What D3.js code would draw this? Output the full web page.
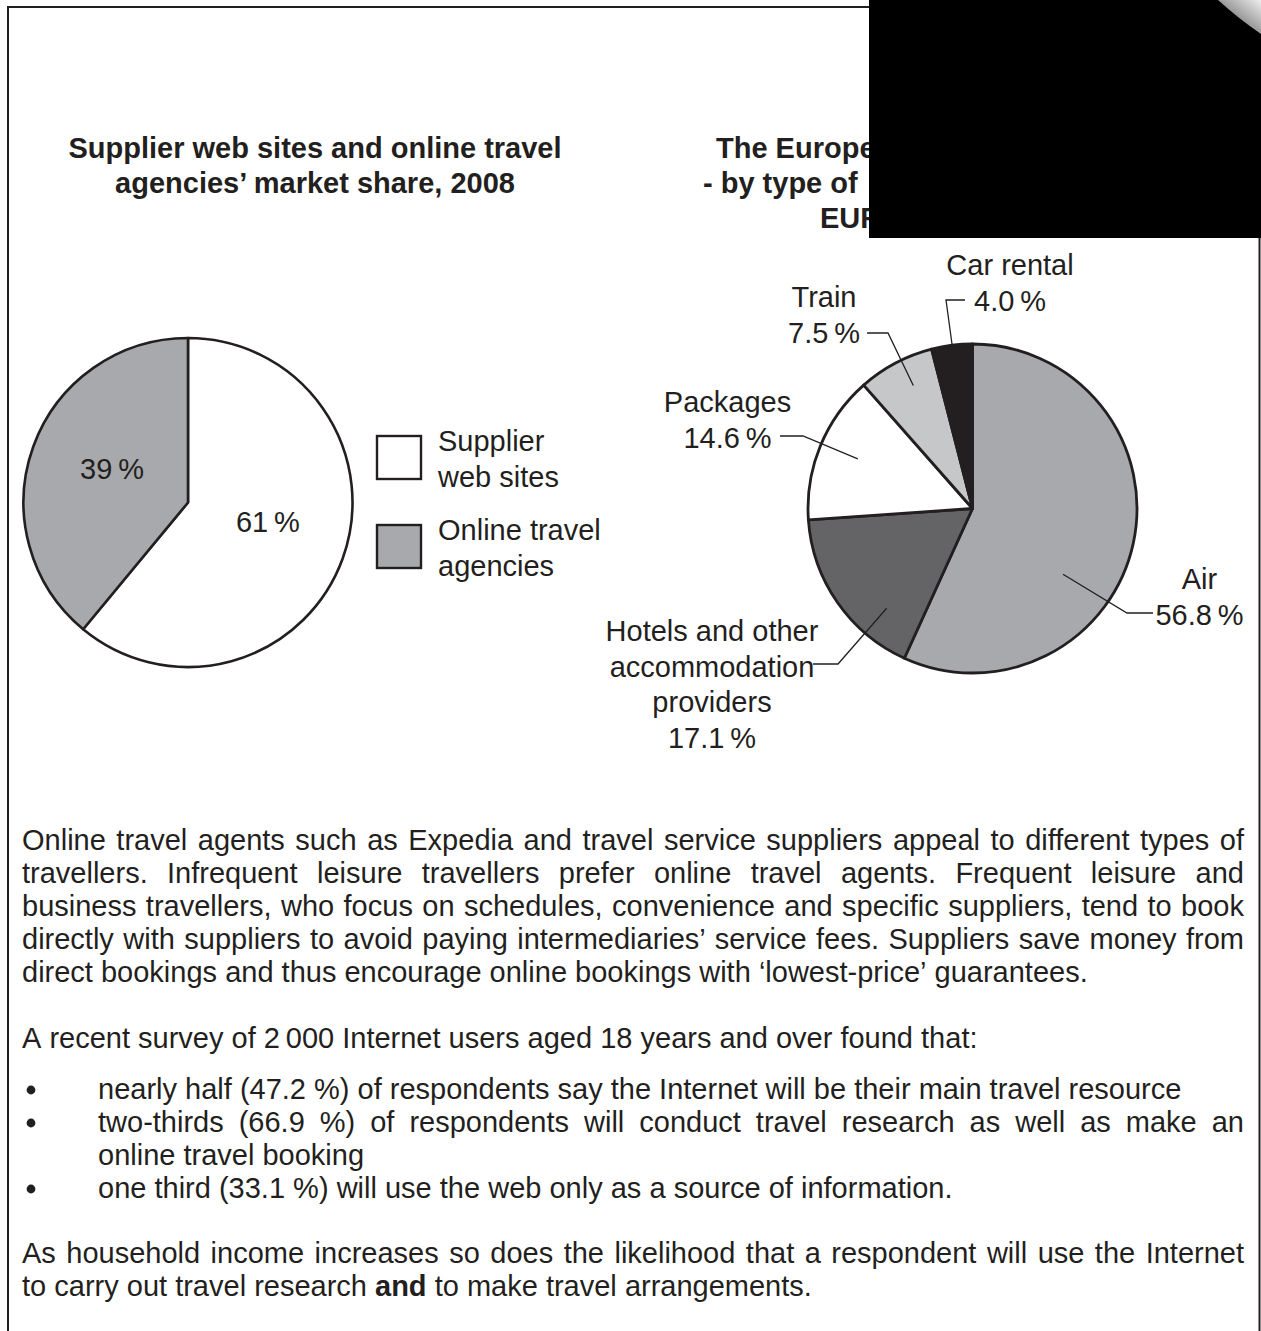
<!DOCTYPE html>
<html>
<head>
<meta charset="utf-8">
<script src="https://cdn.jsdelivr.net/npm/d3@7"></script>
<style>
  html, body { margin: 0; padding: 0; background: #ffffff; }
  svg { display: block; }
  text { font-family: "Liberation Sans", Arial, sans-serif; fill: #231f20; }
</style>
</head>
<body>
<svg id="chart" width="1261" height="1331"></svg>
<script>
// ---------------- DATA ----------------
const leftTitle = ["Supplier web sites and online travel", "agencies\u2019 market share, 2008"];
const leftCategories = ["Supplier web sites", "Online travel agencies"];
const leftValues = [61, 39];
const legendLines = [["Supplier", "web sites"], ["Online travel", "agencies"]];

const rightTitle = ["The Europe", "- by type of", "EUR"];
const rightCategories = ["Air", "Hotels and other accommodation providers", "Packages", "Train", "Car rental"];
const rightValues = [56.8, 17.1, 14.6, 7.5, 4.0];
const rightLabelLines = [["Air"], ["Hotels and other", "accommodation", "providers"], ["Packages"], ["Train"], ["Car rental"]];

const paragraph1 = [
  "Online travel agents such as Expedia and travel service suppliers appeal to different types of",
  "travellers. Infrequent leisure travellers prefer online travel agents. Frequent leisure and",
  "business travellers, who focus on schedules, convenience and specific suppliers, tend to book",
  "directly with suppliers to avoid paying intermediaries\u2019 service fees. Suppliers save money from",
  "direct bookings and thus encourage online bookings with \u2018lowest-price\u2019 guarantees."
];
const paragraph2 = ["A recent survey of 2\u2009000 Internet users aged 18 years and over found that:"];
const bullets = [
  ["nearly half (47.2 %) of respondents say the Internet will be their main travel resource"],
  ["two-thirds (66.9 %) of respondents will conduct travel research as well as make an", "online travel booking"],
  ["one third (33.1 %) will use the web only as a source of information."]
];
const paragraph3 = [
  "As household income increases so does the likelihood that a respondent will use the Internet",
  "to carry out travel research |and| to make travel arrangements."
];

// ---------------- STYLE ----------------
const ink = "#231f20";
const leftColors = ["#ffffff", "#a8a9ac"];
const rightColors = ["#a8a9ac", "#646466", "#ffffff", "#c6c7c9", "#231f20"];
const FS = 29;

const svg = d3.select("#chart");

// frame
svg.append("path")
  .attr("d", "M8,1331 L8,7 L880,7")
  .attr("fill", "none").attr("stroke", ink).attr("stroke-width", 2);
svg.append("line")
  .attr("x1", 1259.5).attr("x2", 1259.5).attr("y1", 230).attr("y2", 1331)
  .attr("stroke", ink).attr("stroke-width", 2);

// ---------------- LEFT PIE ----------------
const pie = d3.pie().sort(null).value(d => d);
const R = 164.5;
const arc = d3.arc().innerRadius(0).outerRadius(R);
const deg = Math.PI / 180;

const gL = svg.append("g").attr("transform", "translate(188,502.5)");
gL.selectAll("path.slice").data(pie(leftValues)).join("path")
  .attr("class", "slice")
  .attr("d", arc)
  .attr("fill", (d, i) => leftColors[i])
  .attr("stroke", ink).attr("stroke-width", 2.6).attr("stroke-linejoin", "round");

// percent labels inside left pie (radial position from slice angle)
const leftLabelRadius = [0.50, 0.505];
const leftLabelAngleShift = [-6 * deg, 4 * deg];
const fmtInt = d3.format("d");
function leftLabelPos(d, i) {
  const a = (d.startAngle + d.endAngle) / 2 + leftLabelAngleShift[i];
  return d3.pointRadial(a, R * leftLabelRadius[i]);
}
gL.selectAll("text.pct").data(pie(leftValues)).join("text")
  .attr("class", "pct")
  .attr("text-anchor", "middle")
  .attr("font-size", FS)
  .attr("x", (d, i) => leftLabelPos(d, i)[0])
  .attr("y", (d, i) => leftLabelPos(d, i)[1] + 10)
  .text(d => fmtInt(d.data) + "\u2009%");

// left title
svg.append("text")
  .attr("text-anchor", "middle").attr("font-size", FS).attr("font-weight", "bold")
  .selectAll("tspan").data(leftTitle).join("tspan")
  .attr("x", 315).attr("y", (d, i) => 158 + i * 35)
  .text(d => d);

// legend
const legend = svg.append("g").attr("transform", "translate(377,436)");
legendLines.forEach((lines, i) => {
  const gy = i * 89;
  legend.append("rect")
    .attr("x", 0).attr("y", gy).attr("width", 44).attr("height", 43)
    .attr("fill", leftColors[i]).attr("stroke", ink).attr("stroke-width", 2.4);
  legend.append("text").attr("font-size", FS)
    .selectAll("tspan").data(lines).join("tspan")
    .attr("x", 61).attr("y", (d, j) => gy + 15 + j * 36)
    .text(d => d);
});

// ---------------- RIGHT PIE ----------------
const cx = 972.5, cy = 508.5;
const gR = svg.append("g").attr("transform", `translate(${cx},${cy})`);
const rightArcs = pie(rightValues);
gR.selectAll("path.slice").data(rightArcs).join("path")
  .attr("class", "slice")
  .attr("d", arc)
  .attr("fill", (d, i) => rightColors[i])
  .attr("stroke", ink).attr("stroke-width", 2.8).attr("stroke-linejoin", "round");

// label layout (relative to pie centre): text anchor point, baselines, leader elbow
const rightLayout = [
  { tx: 227, ty: 80.5, start: [180.5, 104.5], elbow: [154.5, 104.5], ang: 126, rf: 0.68 },
  { tx: -260.5, ty: 132.5, start: [-159.5, 155.5], elbow: [-134.5, 155.5], ang: 220.7, rf: 0.80 },
  { tx: -245, ty: -96.5, start: [-192.5, -72.5], elbow: [-169.5, -72.5], ang: 293.4, rf: 0.76 },
  { tx: -148.5, ty: -201.5, start: [-105.5, -175.5], elbow: [-84.5, -175.5], ang: 334.3, rf: 0.83 },
  { tx: 37.5, ty: -233.5, start: [-7.5, -208.5], elbow: [-26.5, -208.5], ang: 352.9, rf: 1.0 }
];
const fmt1 = d3.format(".1f");
const line = d3.line();

rightArcs.forEach((d, i) => {
  const L = rightLayout[i];
  const inner = d3.pointRadial(L.ang * deg, R * L.rf);
  gR.append("path")
    .attr("d", line([L.start, L.elbow, inner]))
    .attr("fill", "none").attr("stroke", ink).attr("stroke-width", 1.3);
  const lines = rightLabelLines[i].concat([fmt1(d.data) + "\u2009%"]);
  gR.append("text").attr("text-anchor", "middle").attr("font-size", FS)
    .selectAll("tspan").data(lines).join("tspan")
    .attr("x", L.tx).attr("y", (t, j) => L.ty + j * 35.5)
    .text(t => t);
});

// right title (partly covered)
svg.append("text").attr("font-size", FS).attr("font-weight", "bold")
  .selectAll("tspan").data(rightTitle).join("tspan")
  .attr("x", (d, i) => [716, 703, 820][i]).attr("y", (d, i) => 158 + i * 35)
  .text(d => d);

// black redaction block and page curl
svg.append("rect").attr("x", 869).attr("y", 0).attr("width", 392).attr("height", 238).attr("fill", "#000");
const defs = svg.append("defs");
const grad = defs.append("linearGradient").attr("id", "curl")
  .attr("x1", "0").attr("y1", "1").attr("x2", "1").attr("y2", "0");
grad.append("stop").attr("offset", "0").attr("stop-color", "#222");
grad.append("stop").attr("offset", "0.4").attr("stop-color", "#8a8a8a");
grad.append("stop").attr("offset", "1").attr("stop-color", "#eeeeee");
svg.append("path")
  .attr("d", "M1218,0 L1261,0 L1261,34 Q1239,19 1218,0 Z")
  .attr("fill", "url(#curl)");

// ---------------- BODY TEXT ----------------
const body = svg.append("g").attr("font-size", FS);

function writeLine(str, x0, x1, y, justify) {
  const parts = str.split(" ");
  const t = body.append("text").attr("y", y);
  const spans = parts.map(w => {
    let bold = false;
    let word = w;
    if (w.startsWith("|") && w.endsWith("|")) { bold = true; word = w.slice(1, -1); }
    const s = t.append("tspan").text(word);
    if (bold) s.attr("font-weight", "bold");
    return s;
  });
  const widths = spans.map(s => s.node().getComputedTextLength());
  const total = d3.sum(widths);
  let gap;
  if (justify && parts.length > 1) {
    gap = (x1 - x0 - total) / (parts.length - 1);
  } else {
    const probe = body.append("text").text("a a");
    const probe2 = body.append("text").text("aa");
    gap = probe.node().getComputedTextLength() - probe2.node().getComputedTextLength();
    probe.remove(); probe2.remove();
  }
  let x = x0;
  spans.forEach((s, i) => { s.attr("x", x); x += widths[i] + gap; });
}

const LH = 33;
const xL = 22, xR = 1244, xB = 98;
paragraph1.forEach((s, i) => writeLine(s, xL, xR, 850 + i * LH, i < paragraph1.length - 1));
paragraph2.forEach((s, i) => writeLine(s, xL, xR, 1048 + i * LH, false));
let by = 1099;
bullets.forEach(b => {
  body.append("circle").attr("cx", 31).attr("cy", by - 9).attr("r", 4.4).attr("fill", ink);
  b.forEach((s, j) => { writeLine(s, xB, xR, by, j < b.length - 1); by += LH; });
});
paragraph3.forEach((s, i) => writeLine(s, xL, xR, 1263 + i * LH, i < paragraph3.length - 1));
</script>
</body>
</html>
